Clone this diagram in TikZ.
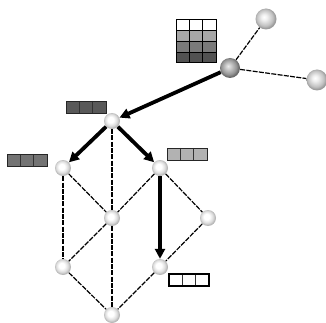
\documentclass[tikz,border=0pt]{standalone}
\usetikzlibrary{arrows.meta,calc}
\pgfdeclareradialshading{softwhite}{\pgfpoint{-5bp}{5bp}}{color(0bp)=(white); color(9bp)=(white); color(19bp)=(black!14); color(25bp)=(black!30); color(50bp)=(black!30)}
\pgfdeclareradialshading{softgray}{\pgfpoint{-5bp}{5bp}}{color(0bp)=(white); color(7bp)=(black!6); color(19bp)=(black!24); color(25bp)=(black!40); color(50bp)=(black!40)}
\pgfdeclareradialshading{darkgray}{\pgfpoint{-5bp}{5bp}}{color(0bp)=(black!8); color(7bp)=(black!20); color(19bp)=(black!42); color(25bp)=(black!60); color(50bp)=(black!60)}
\begin{document}
\begin{tikzpicture}[x=1pt,y=-1pt,
  latt/.style={circle, minimum size=16pt, inner sep=0pt, shading=softwhite},
  bigball/.style={circle, minimum size=21pt, inner sep=0pt, shading=softgray},
  hubball/.style={circle, minimum size=20pt, inner sep=0pt, shading=darkgray},
  dline/.style={line width=1.2pt, dash pattern=on 5pt off 1.3pt},
  bigarrow/.style={line width=3.8pt, -{Triangle[length=10pt,width=10pt]}},
  bar/.style={draw=black!85, line width=0.9pt, fill=#1, minimum width=40pt, minimum height=12pt, inner sep=0pt,
    path picture={
      \draw[black!80, line width=0.7pt]
        ($(path picture bounding box.north west)!1/3!(path picture bounding box.north east)$) --
        ($(path picture bounding box.south west)!1/3!(path picture bounding box.south east)$)
        ($(path picture bounding box.north west)!2/3!(path picture bounding box.north east)$) --
        ($(path picture bounding box.south west)!2/3!(path picture bounding box.south east)$);
    }}
]
\useasboundingbox (0,0) rectangle (326,323);

% grid (top)
\fill[white]    (176,20)    rectangle (216,30.75);
\fill[black!35] (176,30.75) rectangle (216,41.5);
\fill[black!52] (176,41.5)  rectangle (216,52.25);
\fill[black!68] (176,52.25) rectangle (216,63);
\draw[black, line width=0.9pt]
  (189.33,20) -- (189.33,63) (202.67,20) -- (202.67,63)
  (176,30.75) -- (216,30.75) (176,41.5) -- (216,41.5) (176,52.25) -- (216,52.25);
\node (grid) [draw=black, line width=1pt, minimum width=40pt, minimum height=43pt, inner sep=0pt] at (196,41.5) {};

% balls
\node (hub) [hubball] at (230,68) {};
\node (ba) [bigball] at (266,19) {};
\node (bb) [bigball] at (317,80) {};

% lattice nodes
\node (t)  [latt] at (112,121) {};
\node (l)  [latt] at (63,168) {};
\node (r)  [latt] at (160,168) {};
\node (m)  [latt] at (112,218) {};
\node (rr) [latt] at (208,218) {};
\node (bl) [latt] at (63,267) {};
\node (br) [latt] at (160,267) {};
\node (b)  [latt] at (112,315) {};

% bars
\node (barT) [bar=black!65] at (86,107) {};
\node (barL) [bar=black!55] at (27,160) {};
\node (barR) [bar=black!30] at (187,154) {};
\node (barB) [bar=white, draw=black, line width=1.2pt] at (189,280) {};

% dashed edges
\draw[dline] (hub) -- (ba);
\draw[dline] (hub) -- (bb);
\draw[dline] (t) -- (m);
\draw[dline] (l) -- (m);
\draw[dline] (l) -- (bl);
\draw[dline] (r) -- (m);
\draw[dline] (r) -- (rr);
\draw[dline] (m) -- (bl);
\draw[dline] (m) -- (b);
\draw[dline] (rr) -- (br);
\draw[dline] (bl) -- (b);
\draw[dline] (br) -- (b);

% thick arrows
\draw[bigarrow] (hub) -- (t);
\draw[bigarrow] (t) -- (l);
\draw[bigarrow] (t) -- (r);
\draw[bigarrow] (r) -- (br);
\end{tikzpicture}
\end{document}
